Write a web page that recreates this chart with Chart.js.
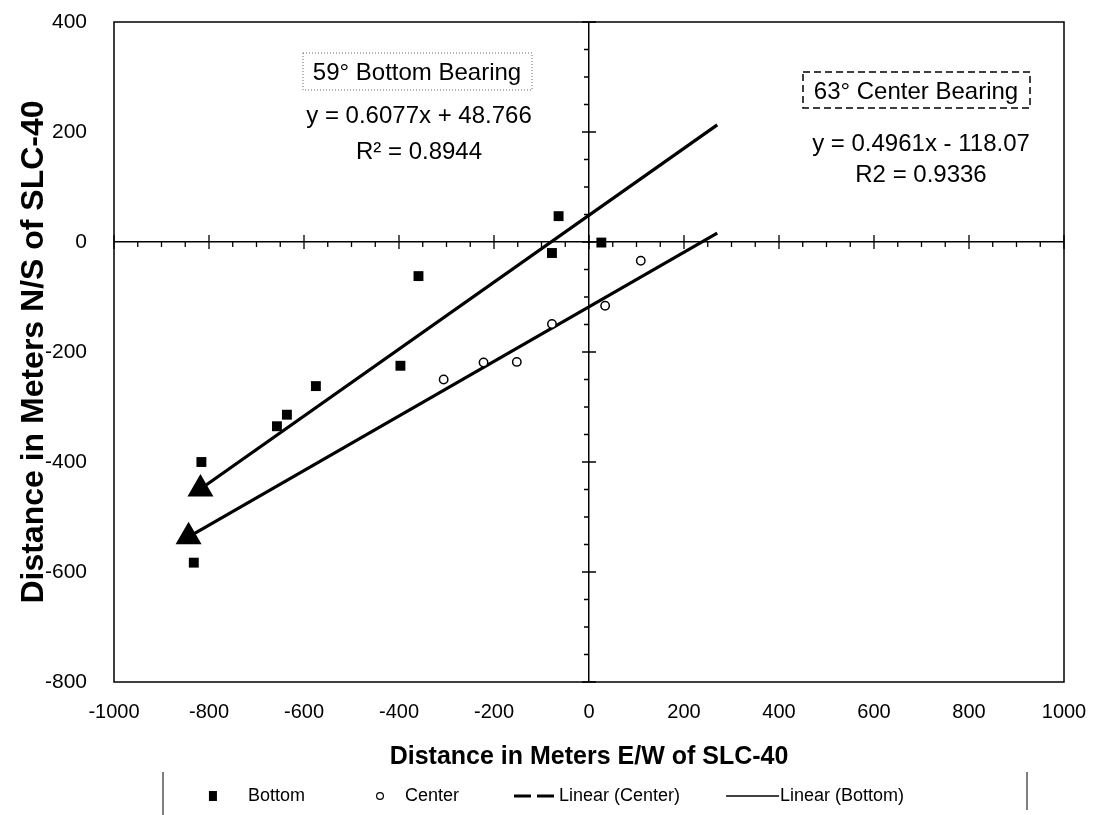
<!DOCTYPE html>
<html><head><meta charset="utf-8">
<script src="https://cdn.jsdelivr.net/npm/chart.js@4.4.1/dist/chart.umd.min.js"></script>
<style>html,body{margin:0;padding:0;background:#fff;}#wrap{width:1099px;height:815px;position:relative;}</style>
</head><body><div id="wrap"><canvas id="c" width="1099" height="815"></canvas></div>
<script>
// ---- data ----
const bottomX = [-832, -816, -657, -636, -575, -397, -359, -78, -64, 26];
const bottomY = [-583, -400, -335, -314, -262, -225, -62, -20, 47, -1];
const centerX = [-306, -222, -152, -78, 34, 109];
const centerY = [-250, -219, -218, -149, -116, -34];
const linCenterX = [-843, 270];
const linCenterY = [-536, 16];
const linBottomX = [-818, 270];
const linBottomY = [-449, 213];
const xTickValues = [-1000, -800, -600, -400, -200, 0, 200, 400, 600, 800, 1000];
const yTickValues = [-800, -600, -400, -200, 0, 200, 400];
const seriesNames = ['Bottom', 'Center', 'Linear (Center)', 'Linear (Bottom)'];
const xTitle = 'Distance in Meters E/W of SLC-40';
const yTitle = 'Distance in Meters N/S of SLC-40';
const noteBottom = ['59° Bottom Bearing', 'y = 0.6077x + 48.766', 'R² = 0.8944'];
const noteCenter = ['63° Center Bearing', 'y = 0.4961x - 118.07', 'R2 = 0.9336'];

const FONT = '"Liberation Sans", Arial, Helvetica, sans-serif';
const pts = (xs, ys) => xs.map((x, i) => ({x: x, y: ys[i]}));

// legend symbol canvases (box width + half font on each side)
const LB_W = 79, LEG_FS = 18;
const CW = LB_W + LEG_FS;  // canvas width; text starts at x = CW
function mk(h, draw) { const c = document.createElement('canvas'); c.width = CW; c.height = h; draw(c.getContext('2d')); return c; }
const legImgs = [
  mk(12, g => { g.fillStyle = '#000'; g.fillRect(CW - 35 - 4, 1, 8, 10); }),
  mk(12, g => { g.strokeStyle = '#000'; g.lineWidth = 1.2; g.beginPath(); g.arc(CW - 25, 6, 3.4, 0, Math.PI * 2); g.stroke(); }),
  mk(6, g => { g.strokeStyle = '#000'; g.lineWidth = 3; g.setLineDash([17, 6]); g.beginPath(); g.moveTo(CW - 45, 3); g.lineTo(CW - 1, 3); g.stroke(); }),
  mk(6, g => { g.strokeStyle = '#000'; g.lineWidth = 1.5; g.beginPath(); g.moveTo(CW - 54, 3); g.lineTo(CW - 1, 3); g.stroke(); })
];

const decor = {
  id: 'decor',
  beforeDatasetsDraw(chart) {
    const {ctx, chartArea: a, scales: {x, y}} = chart;
    ctx.save();
    ctx.strokeStyle = '#000';
    ctx.lineWidth = 1.5;
    ctx.strokeRect(a.left, a.top, a.right - a.left, a.bottom - a.top);
    const x0 = x.getPixelForValue(0), y0 = y.getPixelForValue(0);
    ctx.lineWidth = 1.3;
    ctx.beginPath();
    for (let v = -1000; v <= 1000; v += 50) {
      const px = x.getPixelForValue(v);
      if (v % 200 === 0) { ctx.moveTo(px, y0 - 7); ctx.lineTo(px, y0 + 7); }
      else { ctx.moveTo(px, y0); ctx.lineTo(px, y0 + 5); }
    }
    for (let v = -800; v <= 400; v += 50) {
      const py = y.getPixelForValue(v);
      if (v % 200 === 0) { ctx.moveTo(x0 - 7, py); ctx.lineTo(x0 + 7, py); }
      else { ctx.moveTo(x0 - 5, py); ctx.lineTo(x0, py); }
    }
    ctx.stroke();
    ctx.restore();
  },
  afterDraw(chart) {
    const ctx = chart.ctx;
    ctx.save();
    ctx.fillStyle = '#000';
    ctx.textAlign = 'center';
    ctx.textBaseline = 'alphabetic';
    ctx.font = '24px ' + FONT;
    // bottom bearing note
    ctx.fillText(noteBottom[0], 417, 80);
    ctx.fillText(noteBottom[1], 419, 123);
    ctx.fillText(noteBottom[2], 419, 159);
    ctx.strokeStyle = '#666'; ctx.lineWidth = 1; ctx.setLineDash([1, 2]);
    ctx.strokeRect(303, 53, 229, 37);
    // center bearing note
    ctx.fillText(noteCenter[0], 916, 99);
    ctx.fillText(noteCenter[1], 921, 151);
    ctx.fillText(noteCenter[2], 921, 182);
    ctx.strokeStyle = '#000'; ctx.lineWidth = 1.5; ctx.setLineDash([7, 4]);
    ctx.strokeRect(803, 72, 227, 36);
    // legend frame sides
    ctx.setLineDash([]); ctx.lineWidth = 1;
    ctx.beginPath();
    ctx.moveTo(163, 772); ctx.lineTo(163, 815);
    ctx.moveTo(1027, 772); ctx.lineTo(1027, 810);
    ctx.stroke();
    ctx.restore();
  }
};

const zeroLine = c => (c.tick && c.tick.value === 0) ? '#000' : 'rgba(0,0,0,0)';

new Chart(document.getElementById('c'), {
  type: 'scatter',
  data: {
    datasets: [
      { label: seriesNames[0], data: pts(bottomX, bottomY), pointStyle: 'rect', pointRadius: 7, backgroundColor: '#000', borderColor: '#000', borderWidth: 0 },
      { label: seriesNames[1], data: pts(centerX, centerY), pointStyle: 'circle', pointRadius: 4.2, backgroundColor: '#fff', borderColor: '#000', borderWidth: 1.5 },
      { label: seriesNames[2], data: pts(linCenterX, linCenterY), showLine: true, borderColor: '#000', borderWidth: 3.2, pointStyle: 'triangle', pointRadius: [15, 0], backgroundColor: '#000', pointBorderWidth: 0 },
      { label: seriesNames[3], data: pts(linBottomX, linBottomY), showLine: true, borderColor: '#000', borderWidth: 3.2, pointStyle: 'triangle', pointRadius: [15, 0], backgroundColor: '#000', pointBorderWidth: 0 }
    ]
  },
  options: {
    responsive: false,
    animation: false,
    devicePixelRatio: 1,
    layout: { padding: { top: 22, right: 35, left: 0, bottom: 0 } },
    plugins: {
      tooltip: { enabled: false },
      legend: {
        position: 'bottom',
        labels: {
          usePointStyle: true,
          pointStyleWidth: LB_W,
          boxHeight: 12,
          padding: 12,
          color: '#000',
          font: { family: FONT, size: LEG_FS },
          generateLabels: chart => seriesNames.map((n, i) => ({
            text: n, pointStyle: legImgs[i], datasetIndex: i, hidden: false,
            fillStyle: '#000', strokeStyle: '#000', lineWidth: 0, fontColor: '#000'
          }))
        }
      }
    },
    scales: {
      x: {
        type: 'linear', min: -1000, max: 1000,
        afterBuildTicks: s => { s.ticks = xTickValues.map(v => ({value: v})); },
        afterFit: s => { s.paddingLeft = 0; s.paddingRight = 0; s.height = 815 - 682 - (s.chart.legend ? s.chart.legend.height : 0); },
        grid: { color: zeroLine, lineWidth: 1.5, drawTicks: false },
        border: { display: false },
        ticks: { color: '#000', font: { family: FONT, size: 20 }, padding: 18, maxRotation: 0, callback: v => String(v) },
        title: { display: true, text: xTitle, color: '#000', font: { family: FONT, size: 25, weight: 'bold' }, padding: { top: 0, bottom: 3 } }
      },
      y: {
        type: 'linear', min: -800, max: 400,
        afterBuildTicks: s => { s.ticks = yTickValues.map(v => ({value: v})); },
        afterFit: s => { s.paddingTop = 0; s.paddingBottom = 0; s.width = 114; },
        grid: { color: zeroLine, lineWidth: 1.5, drawTicks: false },
        border: { display: false },
        ticks: { color: '#000', font: { family: FONT, size: 21 }, padding: 27, callback: v => String(v) },
        title: { display: true, text: yTitle, color: '#000', font: { family: FONT, size: 32, weight: 'bold' }, padding: { top: 15, bottom: 0 } }
      }
    }
  },
  plugins: [decor]
});
</script></body></html>
